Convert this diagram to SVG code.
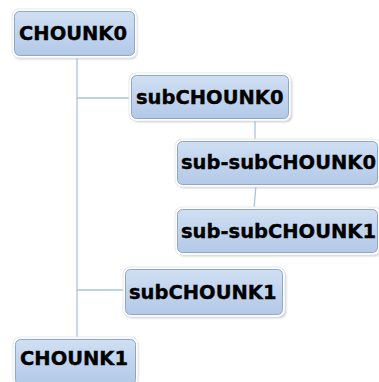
<svg xmlns="http://www.w3.org/2000/svg" width="379" height="382" viewBox="0 0 379 382">
  <defs>
    <linearGradient id="boxFill" x1="0" y1="0" x2="0" y2="1">
      <stop offset="0" stop-color="#d0dff2"/>
      <stop offset="0.5" stop-color="#c1d4ee"/>
      <stop offset="1" stop-color="#b3c9e7"/>
    </linearGradient>
    <filter id="shadow" x="-10%" y="-20%" width="130%" height="150%">
      <feGaussianBlur stdDeviation="1.2"/>
    </filter>
  </defs>
  <style>
    .shade { fill: #8a8a8a; opacity: 0.5; filter: url(#shadow); }
    .rim { fill: #ffffff; stroke: #e4e8ee; stroke-width: 1; }
    .box { fill: url(#boxFill); stroke: #8ea6c6; stroke-width: 1; }
    .label { font-family: "DejaVu Sans", Verdana, sans-serif; font-weight: bold; font-size: 19.5px; fill: #000000; stroke: #000000; stroke-width: 0.35; }
    .link { stroke: #a9c3e2; stroke-width: 1.3; fill: none; }
  </style>
  <rect width="379" height="382" fill="#ffffff"/>

  <g id="connectors">
    <line class="link" x1="77" y1="56" x2="77" y2="339"/>
    <line class="link" x1="77" y1="98" x2="132" y2="98"/>
    <line class="link" x1="77" y1="290" x2="125" y2="290"/>
    <line class="link" x1="255" y1="119" x2="255" y2="141"/>
    <line class="link" x1="256" y1="184" x2="254" y2="209"/>
  </g>

  <g id="chounk0">
    <rect class="shade" x="14" y="12" width="123" height="47" rx="6"/>
    <rect class="rim" x="12" y="9" width="125" height="49" rx="7"/>
    <rect class="box" x="14.5" y="11.5" width="120" height="44" rx="5"/>
    <text class="label" x="19" y="40">CHOUNK0</text>
  </g>

  <g id="subchounk0">
    <rect class="shade" x="132" y="76" width="160" height="46" rx="6"/>
    <rect class="rim" x="129" y="73" width="162" height="48" rx="7"/>
    <rect class="box" x="131.5" y="75.5" width="157" height="43" rx="5"/>
    <text class="label" x="136" y="104">subCHOUNK0</text>
  </g>

  <g id="subsubchounk0">
    <rect class="shade" x="178" y="142" width="203" height="46" rx="6"/>
    <rect class="rim" x="175" y="139" width="206" height="48" rx="7"/>
    <rect class="box" x="177.5" y="141.5" width="200" height="43" rx="5"/>
    <text class="label" x="181" y="169">sub-subCHOUNK0</text>
  </g>

  <g id="subsubchounk1">
    <rect class="shade" x="178" y="210" width="203" height="46" rx="6"/>
    <rect class="rim" x="175" y="207" width="206" height="48" rx="7"/>
    <rect class="box" x="177.5" y="209.5" width="200" height="43" rx="5"/>
    <text class="label" x="181" y="238">sub-subCHOUNK1</text>
  </g>

  <g id="subchounk1">
    <rect class="shade" x="126" y="270" width="160" height="48" rx="6"/>
    <rect class="rim" x="123" y="267" width="162" height="50" rx="7"/>
    <rect class="box" x="125.5" y="269.5" width="157" height="45" rx="5"/>
    <text class="label" x="129" y="299">subCHOUNK1</text>
  </g>

  <g id="chounk1">
    <rect class="shade" x="15" y="340" width="123" height="48" rx="6"/>
    <rect class="rim" x="13" y="337" width="125" height="50" rx="7"/>
    <rect class="box" x="15.5" y="339.5" width="120" height="45" rx="5"/>
    <text class="label" x="20" y="365">CHOUNK1</text>
  </g>
</svg>
